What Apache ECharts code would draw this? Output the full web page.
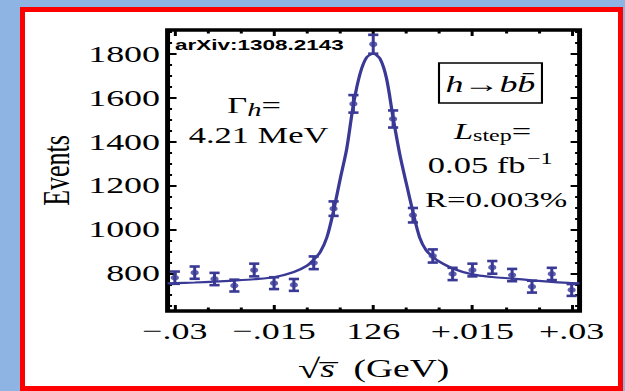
<!DOCTYPE html>
<html><head><meta charset="utf-8">
<script src="https://cdn.jsdelivr.net/npm/echarts@6/dist/echarts.min.js"></script>
<style>
html,body{margin:0;padding:0;width:625px;height:391px;overflow:hidden;background:#8eb4e3;}
#box{position:absolute;left:20px;top:7px;width:603px;height:384px;box-sizing:border-box;border:5.5px solid #ff0000;background:#fff;}
#chart{position:absolute;left:0;top:0;width:417px;height:391px;transform:scaleX(1.4988);transform-origin:0 0;}
</style></head><body>
<div id="box"></div><div id="chart"></div>
<script>
// sqrt(s) offsets from 126 GeV
const xOffsets = [-0.030,-0.027,-0.024,-0.021,-0.018,-0.015,-0.012,-0.009,-0.006,-0.003,0,0.003,0.006,0.009,0.012,0.015,0.018,0.021,0.024,0.027,0.030];
const events   = [780,803,774,744,815,755,747,848,1095,1573,1845,1504,1065,879,797,815,827,792,739,797,724];
const errors   = [28,28,28,27,29,27,27,29,33,40,43,39,33,30,28,29,29,28,27,28,27];
// fitted line shape
const fitX = [-0.0311,-0.030,-0.027,-0.024,-0.021,-0.018,-0.015,-0.012,-0.010,-0.009,-0.008,-0.007,-0.006,-0.005,-0.004,-0.003,-0.002,-0.001,0,0.001,0.002,0.003,0.004,0.005,0.006,0.007,0.008,0.009,0.010,0.012,0.015,0.018,0.021,0.024,0.027,0.030,0.0312];
const fitY = [754,755,758,762,767,773,782,806,835,862,898,965,1085,1230,1370,1570,1710,1785,1802,1780,1690,1510,1345,1210,1080,965,905,875,853,822,795,783,776,768,761,755,754];
const xTickValues = [-0.03,-0.015,0,0.015,0.03];
const xTickLabels = ['\u2212.03','\u2212.015','126','+.015','+.03'];
const xMinorTicks = [-0.025,-0.02,-0.01,-0.005,0.005,0.01,0.02,0.025];
const yTickValues = [800,1000,1200,1400,1600,1800];
const yTickLabels = ['800','1000','1200','1400','1600','1800'];
const yMinorTicks = [650,700,750,850,900,950,1050,1100,1150,1250,1300,1350,1450,1500,1550,1650,1700,1750,1850,1900];

const X_MIN = -0.0311, X_MAX = 0.0312, Y_MIN = 628, Y_MAX = 1910;
const C = '#3a3a96';
const SERIF = 'Liberation Serif';

function xAx(pos, vals, len, withLabels){
  const a = {type:'value', position:pos, min:X_MIN, max:X_MAX,
    axisLine:{show:false, onZero:false}, splitLine:{show:false},
    axisTick:{show:true, inside:true, length:len, customValues:vals, lineStyle:{color:'#000', width:2}},
    axisLabel:{show:false, customValues:vals}};
  if (withLabels){
    a.axisLabel = {show:true, customValues:vals, margin:8, color:'#000', fontFamily:SERIF, fontSize:24,
      formatter: v => xTickLabels[xTickValues.findIndex(t => Math.abs(t - v) < 1e-9)]};
    a.name = '{r|\u221A}{s|s\u0305}  (GeV)';
    a.nameLocation = 'middle'; a.nameGap = 44; a.nameMoveOverlap = false;
    a.nameTextStyle = {color:'#000', fontFamily:SERIF, fontSize:25,
      rich:{r:{fontFamily:SERIF, fontSize:27, color:'#000'}, s:{fontFamily:SERIF, fontStyle:'italic', fontSize:25, color:'#000'}}};
  }
  return a;
}
function yAx(pos, vals, len, withLabels){
  const a = {type:'value', position:pos, min:Y_MIN, max:Y_MAX,
    axisLine:{show:false, onZero:false}, splitLine:{show:false},
    axisTick:{show:true, inside:true, length:len, customValues:vals, lineStyle:{color:'#000', width:2}},
    axisLabel:{show:false, customValues:vals}};
  if (withLabels){
    a.axisLabel = {show:true, customValues:vals, margin:5, color:'#000', fontFamily:SERIF, fontSize:24,
      formatter: v => yTickLabels[yTickValues.indexOf(Math.round(v))]};
    a.name = 'Events'; a.nameLocation = 'middle'; a.nameRotate = 90; a.nameGap = 62; a.nameMoveOverlap = false;
    a.nameTextStyle = {color:'#000', fontFamily:SERIF, fontSize:26};
  }
  return a;
}

const chart = echarts.init(document.getElementById('chart'), null, {renderer:'svg'});
chart.setOption({
  animation:false,
  backgroundColor:'transparent',
  grid:{left:111.8, right:30.3, top:30, bottom:80, show:true, borderColor:'#000', borderWidth:3.3, backgroundColor:'transparent', outerBoundsMode:'none'},
  xAxis:[xAx('bottom', xTickValues, 6, true), xAx('bottom', xMinorTicks, 3.5, false), xAx('top', xTickValues, 6, false), xAx('top', xMinorTicks, 3.5, false)],
  yAxis:[yAx('left', yTickValues, 6, true), yAx('left', yMinorTicks, 3, false), yAx('right', yTickValues, 6, false), yAx('right', yMinorTicks, 3, false)],
  series:[
    {type:'line', xAxisIndex:0, yAxisIndex:0, data:fitX.map((x,i)=>[x, fitY[i]]), showSymbol:false, smooth:0.3,
     lineStyle:{color:C, width:2.2}, z:2, silent:true},
    {type:'custom', xAxisIndex:0, yAxisIndex:0, data:xOffsets.map((x,i)=>[x, events[i], errors[i]]), encode:{x:0, y:1}, z:3,
     renderItem:function(params, api){
       const x = api.value(0), v = api.value(1), e = api.value(2);
       const t = api.coord([x, v + e]), b = api.coord([x, v - e]);
       const cw = 3.4;
       return {type:'group', children:[
         {type:'line', shape:{x1:t[0], y1:t[1], x2:b[0], y2:b[1]}, style:{stroke:C, lineWidth:2}},
         {type:'line', shape:{x1:t[0]-cw, y1:t[1], x2:t[0]+cw, y2:t[1]}, style:{stroke:C, lineWidth:2.6}},
         {type:'line', shape:{x1:b[0]-cw, y1:b[1], x2:b[0]+cw, y2:b[1]}, style:{stroke:C, lineWidth:2.6}}
       ]};
     }},
    {type:'scatter', xAxisIndex:0, yAxisIndex:0, data:xOffsets.map((x,i)=>[x, events[i]]), symbol:'circle', symbolSize:5.5,
     itemStyle:{color:C}, z:4}
  ],
  graphic:[
    {type:'text', x:116.8, y:45, style:{text:'arXiv:1308.2143', fill:'#000', fontFamily:'Liberation Sans', fontWeight:'bold', fontSize:15, textAlign:'left', textVerticalAlign:'middle'}},
    {type:'text', x:169.5, y:105, style:{text:'{a|\u0393}{h|h}{a|=}', fill:'#000', textAlign:'center', textVerticalAlign:'middle',
      rich:{a:{fontFamily:SERIF, fontSize:23, fill:'#000'}, h:{fontFamily:SERIF, fontStyle:'italic', fontSize:19, fill:'#000', padding:[9,0,0,0]}}}},
    {type:'text', x:172.5, y:135.5, style:{text:'4.21 MeV', fill:'#000', fontFamily:SERIF, fontSize:23, textAlign:'center', textVerticalAlign:'middle'}},
    {type:'rect', shape:{x:292.9, y:63, width:68.7, height:40}, style:{fill:'none', stroke:'#000', lineWidth:1.4}},
    {type:'text', x:327.2, y:84, style:{text:'{i|h}{a|\u2192}{i|b}{i|b\u0304}', fill:'#000', textAlign:'center', textVerticalAlign:'middle',
      rich:{i:{fontFamily:SERIF, fontStyle:'italic', fontSize:24, fill:'#000'}, a:{fontFamily:SERIF, fontSize:24, fill:'#000'}}}},
    {type:'text', x:328.6, y:131, style:{text:'{i|L}{s|step}{a|=}', fill:'#000', textAlign:'center', textVerticalAlign:'middle',
      rich:{i:{fontFamily:SERIF, fontStyle:'italic', fontSize:23, fill:'#000'}, s:{fontFamily:SERIF, fontSize:16, fill:'#000', padding:[10,0,0,0]}, a:{fontFamily:SERIF, fontSize:23, fill:'#000'}}}},
    {type:'text', x:327, y:165, style:{text:'{a|0.05 fb}{p|\u22121}', fill:'#000', textAlign:'center', textVerticalAlign:'middle',
      rich:{a:{fontFamily:SERIF, fontSize:23, fill:'#000'}, p:{fontFamily:SERIF, fontSize:16, fill:'#000', padding:[0,0,12,1]}}}},
    {type:'text', x:331, y:200, style:{text:'R=0.003%', fill:'#000', fontFamily:SERIF, fontSize:22, textAlign:'center', textVerticalAlign:'middle'}}
  ]
});
</script>
</body></html>
